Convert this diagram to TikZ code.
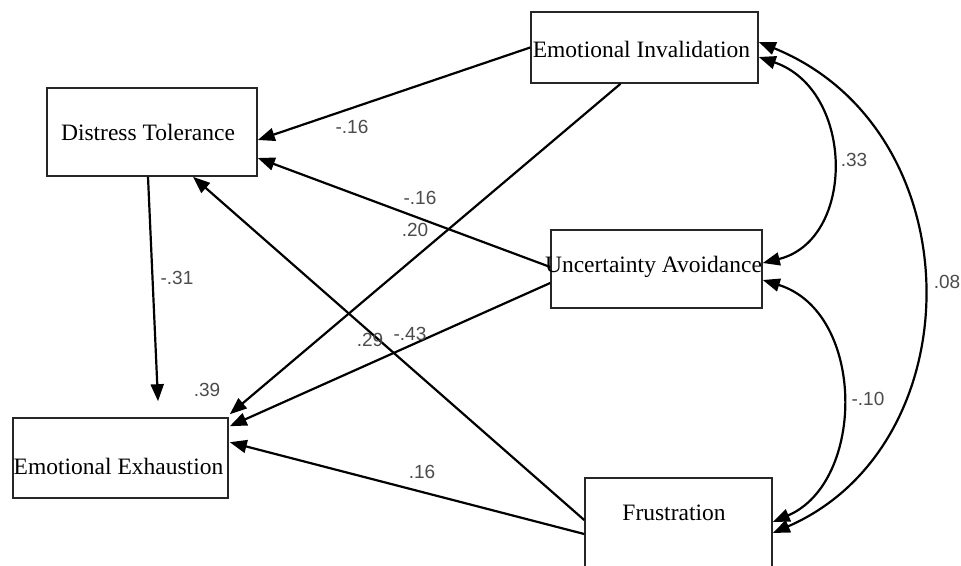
\documentclass[tikz,border=0pt]{standalone}
\usepackage{fontspec}
\setmainfont{Liberation Serif}
\newfontfamily\labfont{Liberation Sans}
\usetikzlibrary{arrows.meta}
\begin{document}
\begin{tikzpicture}[x=1pt,y=-1pt,
  box/.style={draw=black!85, line width=1.6pt, fill=white, inner sep=0pt},
  boxtext/.style={font=\fontsize{23.5}{26}\selectfont, inner sep=0pt},
  coef/.style={font=\labfont\fontsize{19}{21}\selectfont, text=black!70, inner sep=0pt},
  tip/.tip={Triangle[length=17pt,width=13pt]},
  pathc/.style={line width=2.2pt, -tip},
  covc/.style={line width=2.2pt, tip-tip}]
\useasboundingbox (0,0) rectangle (961,565);
\clip (0,0) rectangle (961,565);
\fill[white] (0,0) rectangle (961,565);
% boxes
\node[box, minimum width=227pt, minimum height=71pt] (ei) at (644.5,47.5) {};
\node[box, minimum width=210pt, minimum height=88pt] (dt) at (152,132) {};
\node[box, minimum width=211pt, minimum height=78pt] (ua) at (656.5,269) {};
\node[box, minimum width=215pt, minimum height=80pt] (ee) at (120.5,458) {};
\node[box, minimum width=187pt, minimum height=112pt] (fr) at (678.5,534) {};
% box texts
\node[boxtext] (eit) at (641.5,49) {Emotional Invalidation};
\node[boxtext] (dtt) at (148,132) {Distress Tolerance};
\node[boxtext] (uat) at (653.5,267) {Uncertainty Avoidance};
\node[boxtext] (eet) at (118.5,466) {Emotional Exhaustion};
\node[boxtext] (frt) at (674,513) {Frustration};
% regression paths
\draw[pathc] (ei.west) -- ([yshift=-8pt]dt.east);
\draw[pathc] ([xshift=-24pt]ei.south) -- ([xshift=1pt,yshift=3pt]ee.north east);
\draw[pathc] ([yshift=2pt]ua.west) -- ([yshift=-26pt]dt.east);
\draw[pathc] ([yshift=-14pt]ua.west) -- ([xshift=1pt,yshift=-9pt]ee.north east);
\draw[pathc] ([yshift=14pt]fr.west) -- ([xshift=41pt]dt.south);
\draw[pathc] (fr.west) -- ([xshift=1pt,yshift=-25pt]ee.north east);
\draw[pathc] ([xshift=-4pt]dt.south) -- ([xshift=37.5pt,yshift=16pt]ee.north);
% covariances
\draw[covc] ([yshift=5.5pt]ei.east) .. controls (975,130) and (975,445) .. ([yshift=1pt]fr.east);
\draw[covc] ([yshift=-9.5pt]ei.east) .. controls (855,90) and (856,240) .. ([yshift=6pt]ua.east);
\draw[covc] ([yshift=-11pt]ua.east) .. controls (866,312) and (866,482) .. ([yshift=12pt]fr.east);
% coefficients
\node[coef] (c1) at (352,127) {-.16};
\node[coef] (c2) at (420,198) {-.16};
\node[coef] (c3) at (415,230) {.20};
\node[coef] (c4) at (370,340) {.29};
\node[coef] (c5) at (410,334) {-.43};
\node[coef] (c6) at (177,278) {-.31};
\node[coef] (c7) at (207,390) {.39};
\node[coef] (c8) at (422,472) {.16};
\node[coef] (c9) at (854,160) {.33};
\node[coef] (c10) at (947,282) {.08};
\node[coef] (c11) at (868,399) {-.10};
\end{tikzpicture}
\end{document}
